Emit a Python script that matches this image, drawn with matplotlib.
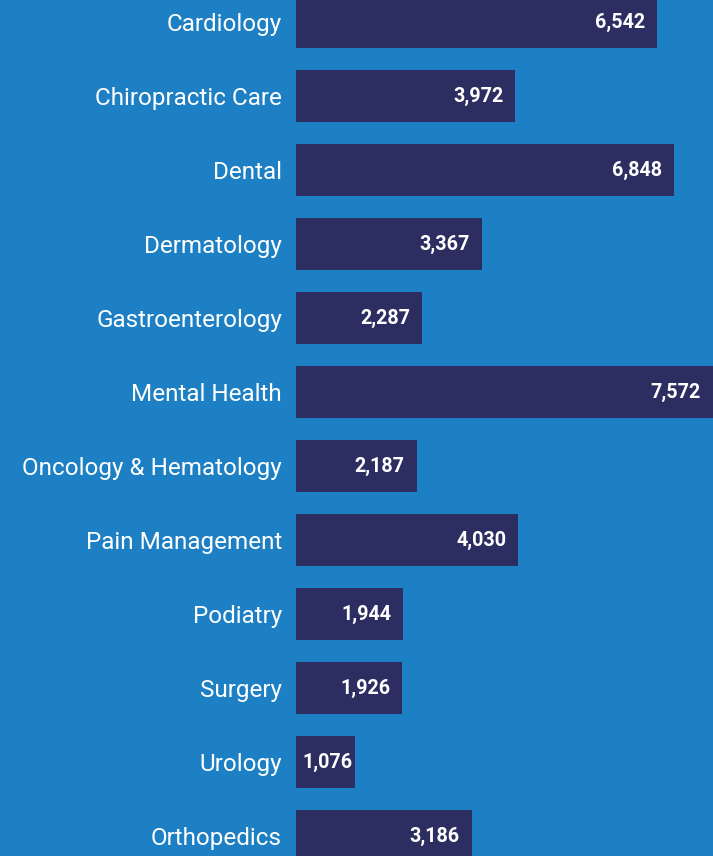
import matplotlib
matplotlib.use("Agg")
import matplotlib.pyplot as plt

categories = ["Cardiology", "Chiropractic Care", "Dental", "Dermatology",
              "Gastroenterology", "Mental Health", "Oncology & Hematology",
              "Pain Management", "Podiatry", "Surgery", "Urology", "Orthopedics"]
values = [6542, 3972, 6848, 3367, 2287, 7572, 2187, 4030, 1944, 1926, 1076, 3186]

BG = "#1d7fc4"
BAR = "#2c2e62"
FONT = ["Roboto", "DejaVu Sans"]

W, H, DPI = 713, 856, 100
fig = plt.figure(figsize=(W / DPI, H / DPI), dpi=DPI, facecolor=BG)
renderer = fig.canvas.get_renderer()


def text_width(text, size, weight="normal"):
    t = fig.text(0, 0, text, fontsize=size, fontfamily=FONT, fontweight=weight)
    w = t.get_window_extent(renderer).width
    t.remove()
    return w


cat_fs = 20 * 259 / text_width("Oncology & Hematology", 20)
val_fs = 20 * 50 / text_width("6,542", 20, "bold")

left = 296 / W
ax = fig.add_axes([left, 0, 1 - left, 1])
ax.set_facecolor(BG)

ypos = list(range(len(categories)))
ax.barh(ypos, values, height=0.69, color=BAR)

spacing = 74.0
first = 22.0
ax.set_ylim((H - first) / spacing, -first / spacing)
ax.set_xlim(0, (W - 296) / 0.0552)

ax.set_yticks(ypos)
ax.set_yticklabels(categories, fontfamily=FONT, fontsize=cat_fs, color="white")
ax.tick_params(axis="y", length=0, pad=10)
ax.set_xticks([])
for s in ax.spines.values():
    s.set_visible(False)

px_per_pt = DPI / 72.0
for y, v in zip(ypos, values):
    xv = min(v, ax.get_xlim()[1])
    label = f"{v:,}"
    w_px = text_width(label, val_fs, "bold")
    bar_px = ax.transData.transform((xv, 0))[0] - ax.transData.transform((0, 0))[0]
    if bar_px - 12 - w_px < 6:
        ax.annotate(label, xy=(0, y), xytext=(6 / px_per_pt, 0), textcoords="offset points",
                    ha="left", va="center", color="white", fontweight="bold",
                    fontsize=val_fs, fontfamily=FONT)
    else:
        ax.annotate(label, xy=(xv, y), xytext=(-12 / px_per_pt, 0), textcoords="offset points",
                    ha="right", va="center", color="white", fontweight="bold",
                    fontsize=val_fs, fontfamily=FONT)

fig.savefig("out.png", dpi=DPI, facecolor=BG)
